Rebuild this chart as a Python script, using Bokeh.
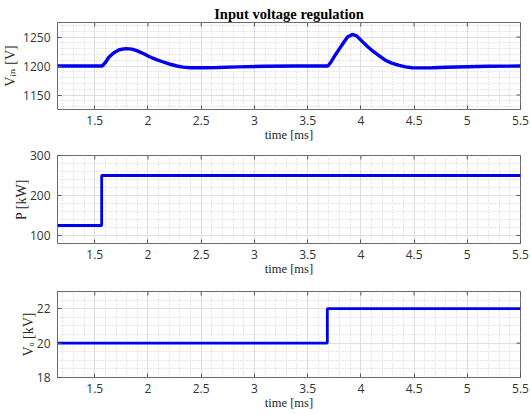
import numpy as np
from bokeh.plotting import figure
from bokeh.layouts import column
from bokeh.models import Range1d, FixedTicker, Title
from bokeh.embed import file_html
from bokeh.resources import INLINE

# ---------------- data ----------------
t_vin = [1.15, 1.57, 1.60, 1.632, 1.68, 1.73, 1.79, 1.85, 1.90, 1.96, 2.02, 2.08,
         2.15, 2.21, 2.27, 2.33, 2.40, 2.50, 2.65, 2.85, 3.10, 3.40, 3.69, 3.72,
         3.76, 3.80, 3.84, 3.875, 3.92, 3.96, 4.015, 4.06, 4.11, 4.17, 4.23, 4.29,
         4.36, 4.42, 4.48, 4.58, 4.67, 4.80, 5.00, 5.20, 5.50]
vin = [1200, 1200, 1206, 1215, 1223, 1228, 1230, 1229, 1226, 1221, 1215.5, 1211,
       1206.5, 1203, 1200, 1198, 1197, 1197, 1197.5, 1198.5, 1199.5, 1200, 1200, 1207,
       1219, 1230, 1241, 1250, 1254.5, 1252, 1242, 1234, 1226, 1218, 1210, 1205,
       1201, 1198.5, 1197, 1196.8, 1197, 1197.8, 1198.7, 1199.5, 1200]

t_p = [1.15, 1.565, 1.565, 5.5]
p_kw = [125, 125, 250, 250]

t_vo = [1.15, 3.685, 3.685, 5.5]
vo_kv = [20, 20, 22, 22]

x_ticks = [1.5, 2, 2.5, 3, 3.5, 4, 4.5, 5, 5.5]
x_tick_labels = ["1.5", "2", "2.5", "3", "3.5", "4", "4.5", "5", "5.5"]
vin_ticks = [1150, 1200, 1250]
vin_tick_labels = ["1150", "1200", "1250"]
p_ticks = [100, 200, 300]
p_tick_labels = ["100", "200", "300"]
vo_ticks = [18, 20, 22]
vo_tick_labels = ["18", "20", "22"]

title_text = "Input voltage regulation"
x_label = "time [ms]"
vin_label = "V\u1d62\u2099 [V]"
p_label = "P [kW]"
vo_label = "V\u2092 [kV]"

# ---------------- style ----------------
X_RANGE = (1.15, 5.5)
FRAME_W = 463
BLUE = "#0000ee"
SERIF = "'Liberation Serif', 'DejaVu Serif', 'DejaVu Sans'"
SANS = "Open Sans"
TICK_COL = "#333333"
EDGE_COL = "#555555"
x_minor = [round(v, 2) for v in np.arange(1.2, 5.5, 0.1)]


def make_fig(yr, yt, ytl, ymin, fh, bt, bb, ylab, ystand):
    p = figure(frame_width=FRAME_W, frame_height=fh,
               min_border_left=57, min_border_right=11,
               min_border_top=bt, min_border_bottom=bb,
               x_range=Range1d(*X_RANGE), y_range=Range1d(*yr),
               output_backend="svg", toolbar_location=None, tools="")
    p.background_fill_color = "white"
    p.border_fill_color = "white"
    p.outline_line_color = "#6b6b6b"
    p.outline_line_width = 1
    xt = FixedTicker(ticks=x_ticks, minor_ticks=x_minor)
    ytk = FixedTicker(ticks=yt, minor_ticks=ymin)
    p.xaxis.ticker = xt
    p.yaxis.ticker = ytk
    p.xgrid.ticker = xt
    p.ygrid.ticker = ytk
    for g in (p.xgrid[0], p.ygrid[0]):
        g.grid_line_color = "#dedede"
        g.grid_line_width = 1
        g.minor_grid_line_color = "#cfcfcf"
        g.minor_grid_line_dash = "1 2"
        g.minor_grid_line_width = 1
    for ax in (p.xaxis[0], p.yaxis[0]):
        ax.axis_line_color = None
        ax.major_tick_in = 4
        ax.major_tick_out = 0
        ax.major_tick_line_color = EDGE_COL
        ax.minor_tick_line_color = None
        ax.major_label_text_font = SANS
        ax.major_label_text_font_size = "12px"
        ax.major_label_text_color = TICK_COL
    p.xaxis.major_label_standoff = 2
    p.yaxis.major_label_standoff = 3
    p.xaxis.major_label_overrides = dict(zip(x_ticks, x_tick_labels))
    p.yaxis.major_label_overrides = dict(zip(yt, ytl))
    p.xaxis.axis_label = x_label
    p.xaxis.axis_label_text_font = SERIF
    p.xaxis.axis_label_text_font_style = "normal"
    p.xaxis.axis_label_text_font_size = "12.5px"
    p.xaxis.axis_label_text_color = "#262626"
    p.xaxis.axis_label_standoff = 0
    p.yaxis.axis_label = ylab
    p.yaxis.axis_label_text_font = SERIF
    p.yaxis.axis_label_text_font_style = "normal"
    p.yaxis.axis_label_text_font_size = "14px"
    p.yaxis.axis_label_text_color = "#262626"
    p.yaxis.axis_label_standoff = ystand
    # box ticks on the top and right edges (inward, clipped to the frame)
    p.scatter(x_ticks, [yr[1]] * len(x_ticks), marker="dash", angle=np.pi / 2,
              size=8, line_color=EDGE_COL, line_width=1)
    p.scatter([X_RANGE[1]] * len(yt), yt, marker="dash", size=8,
              line_color=EDGE_COL, line_width=1)
    return p


# ---------- plot 1 : input voltage ----------
p1 = make_fig((1125, 1275), vin_ticks, vin_tick_labels,
              list(range(1130, 1275, 10)), 87, 22, 39, vin_label, 2)
p1.line(t_vin, vin, line_color=BLUE, line_width=3.4)
p1.title = Title(text=title_text, align="center", text_font=SERIF,
                 text_font_style="bold", text_font_size="14.5px",
                 text_color="black", standoff=1, offset=-8)

# ---------- plot 2 : power ----------
p2 = make_fig((80, 300), p_ticks, p_tick_labels,
              list(range(80, 301, 20)), 88, 7, 40, p_label, -2)
p2.line(t_p, p_kw, line_color=BLUE, line_width=2.8)

# ---------- plot 3 : output voltage ----------
p3 = make_fig((18, 23), vo_ticks, vo_tick_labels,
              [round(v, 1) for v in np.arange(18.5, 23, 0.5)], 86, 8, 35, vo_label, -2)
p3.line(t_vo, vo_kv, line_color=BLUE, line_width=2.8)

layout = column(p1, p2, p3, spacing=0)
open("out.html", "w").write(file_html(layout, INLINE))
